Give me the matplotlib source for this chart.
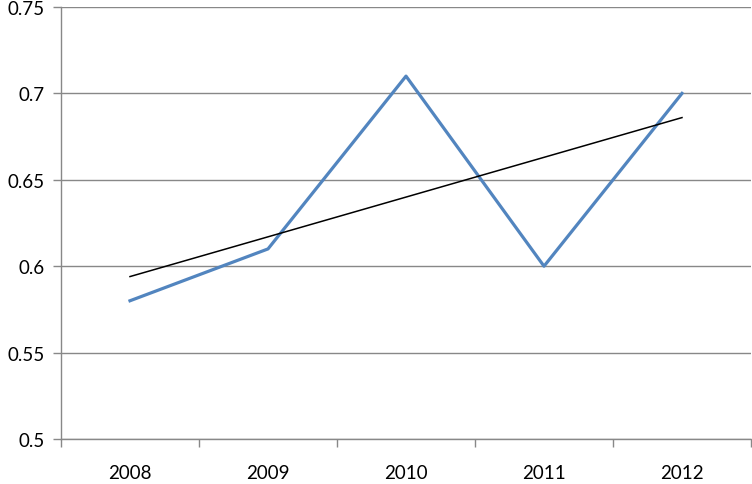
import matplotlib
matplotlib.use("Agg")
import matplotlib.pyplot as plt
import numpy as np

years = ["2008", "2009", "2010", "2011", "2012"]
values = [0.58, 0.61, 0.71, 0.60, 0.70]
yticks = [0.5, 0.55, 0.6, 0.65, 0.7, 0.75]
ytick_labels = ["0.5", "0.55", "0.6", "0.65", "0.7", "0.75"]

plt.rcParams['font.family'] = ['Lato', 'DejaVu Sans']

fig = plt.figure(figsize=(7.52, 4.85), dpi=100)
ax = fig.add_axes([61/752, 1-440/485, (751-61)/752, (440-8)/485])

x = np.arange(len(years))
ax.plot(x, values, color="#5285BF", lw=2.3, zorder=3)

coef = np.polyfit(x, values, 1)
ax.plot(x, np.polyval(coef, x), color="black", lw=1.1, zorder=4)

ax.set_xlim(-0.5, len(years) - 0.5)
ax.set_ylim(0.5, 0.75)
ax.set_yticks(yticks)
ax.set_yticklabels(ytick_labels)
ax.set_xticks(x)
ax.set_xticklabels(years)
ax.set_xticks(np.arange(-0.5, len(years), 1.0), minor=True)
ax.tick_params(axis='x', which='major', length=0, pad=18, labelsize=13.5)
ax.tick_params(axis='x', which='minor', length=6, color="#888888", width=1, direction='out')
ax.tick_params(axis='y', length=6, color="#888888", width=1, direction='out', pad=6, labelsize=13.5)

ax.grid(axis='y', color="#888888", lw=1)
ax.set_axisbelow(True)
for s in ['top', 'right']:
    ax.spines[s].set_visible(False)
for s in ['left', 'bottom']:
    ax.spines[s].set_color("#888888")
    ax.spines[s].set_linewidth(1)

fig.savefig("out.png", dpi=100)
